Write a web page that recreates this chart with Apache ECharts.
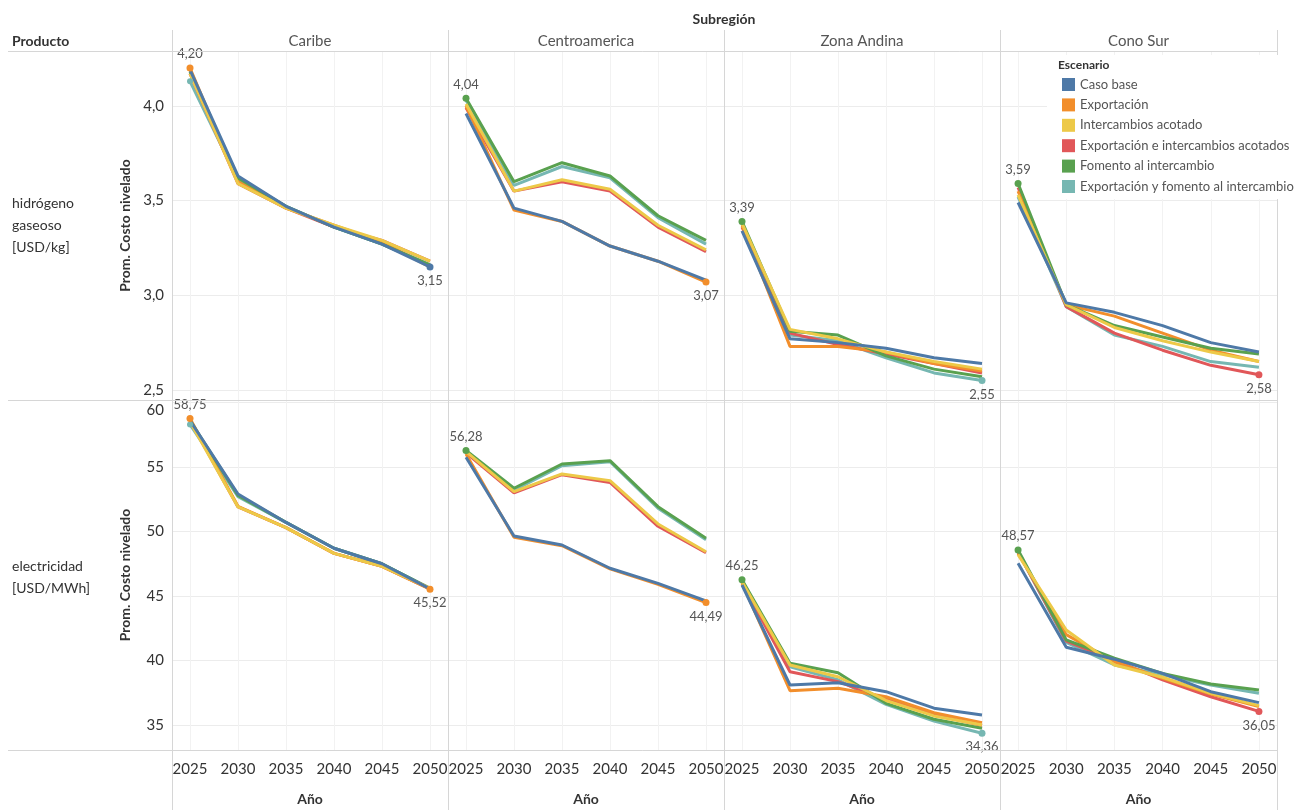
<!DOCTYPE html>
<html><head><meta charset="utf-8">
<script src="https://cdn.jsdelivr.net/npm/echarts@6/dist/echarts.min.js"></script>
<style>html,body{margin:0;padding:0;background:#fff}#c{width:1298px;height:810px}</style>
</head><body><div id="c"></div>
<script>
// ---------- DATA ----------
const years = [2025, 2030, 2035, 2040, 2045, 2050];
const regions = ['Caribe', 'Centroamerica', 'Zona Andina', 'Cono Sur'];
const products = ['hidrógeno\ngaseoso\n[USD/kg]', 'electricidad\n[USD/MWh]'];
const scenarios = ['Caso base', 'Exportación', 'Intercambios acotado',
  'Exportación e intercambios acotados', 'Fomento al intercambio',
  'Exportación y fomento al intercambio'];
const colors = ['#4e79a7', '#f28e2b', '#edc948', '#e15759', '#59a14f', '#76b7b2'];

// hidrógeno gaseoso [USD/kg] — rows in scenario order
const h2Caribe = [
  [4.19, 3.63, 3.47, 3.36, 3.27, 3.15],
  [4.20, 3.60, 3.46, 3.37, 3.28, 3.15],
  [4.17, 3.59, 3.46, 3.37, 3.29, 3.18],
  [4.17, 3.59, 3.46, 3.36, 3.29, 3.18],
  [4.18, 3.62, 3.47, 3.36, 3.27, 3.16],
  [4.13, 3.61, 3.47, 3.36, 3.27, 3.16]
];
const h2Centroamerica = [
  [3.96, 3.46, 3.39, 3.26, 3.18, 3.08],
  [4.00, 3.45, 3.39, 3.26, 3.18, 3.07],
  [4.01, 3.55, 3.61, 3.56, 3.37, 3.24],
  [3.99, 3.55, 3.60, 3.55, 3.36, 3.23],
  [4.04, 3.60, 3.70, 3.63, 3.42, 3.29],
  [4.03, 3.58, 3.68, 3.62, 3.41, 3.27]
];
const h2ZonaAndina = [
  [3.34, 2.77, 2.75, 2.72, 2.67, 2.64],
  [3.37, 2.73, 2.73, 2.70, 2.64, 2.60],
  [3.38, 2.82, 2.77, 2.70, 2.65, 2.61],
  [3.36, 2.80, 2.74, 2.69, 2.64, 2.59],
  [3.39, 2.81, 2.79, 2.68, 2.61, 2.57],
  [3.38, 2.79, 2.76, 2.67, 2.59, 2.55]
];
const h2ConoSur = [
  [3.49, 2.96, 2.91, 2.84, 2.75, 2.70],
  [3.55, 2.95, 2.89, 2.80, 2.71, 2.65],
  [3.53, 2.95, 2.83, 2.76, 2.70, 2.65],
  [3.57, 2.94, 2.80, 2.71, 2.63, 2.58],
  [3.59, 2.95, 2.84, 2.78, 2.72, 2.69],
  [3.52, 2.94, 2.79, 2.73, 2.65, 2.62]
];
// electricidad [USD/MWh]
const elCaribe = [
  [58.60, 52.90, 50.70, 48.70, 47.50, 45.55],
  [58.75, 51.95, 50.30, 48.30, 47.30, 45.52],
  [58.50, 51.90, 50.30, 48.30, 47.30, 45.60],
  [58.60, 51.90, 50.30, 48.30, 47.30, 45.55],
  [58.60, 52.80, 50.70, 48.70, 47.50, 45.60],
  [58.30, 52.70, 50.70, 48.70, 47.50, 45.60]
];
const elCentroamerica = [
  [55.75, 49.65, 48.95, 47.15, 45.98, 44.62],
  [56.00, 49.55, 48.90, 47.10, 45.90, 44.49],
  [56.19, 53.09, 54.46, 53.94, 50.58, 48.43],
  [56.10, 53.00, 54.40, 53.80, 50.40, 48.35],
  [56.28, 53.35, 55.23, 55.49, 51.92, 49.47],
  [56.20, 53.20, 55.10, 55.40, 51.80, 49.35]
];
const elZonaAndina = [
  [45.85, 38.10, 38.28, 37.58, 36.30, 35.78],
  [46.00, 37.66, 37.85, 37.19, 35.95, 35.18],
  [46.10, 39.65, 38.74, 36.90, 35.70, 35.00],
  [46.00, 39.13, 38.36, 37.00, 35.80, 34.95],
  [46.25, 39.78, 39.05, 36.68, 35.44, 34.74],
  [46.15, 39.50, 38.50, 36.60, 35.30, 34.36]
];
const elConoSur = [
  [47.53, 41.02, 40.10, 39.00, 37.58, 36.73],
  [48.31, 42.00, 39.90, 38.62, 37.40, 36.42],
  [48.20, 42.36, 39.65, 38.70, 37.45, 36.50],
  [48.40, 41.50, 40.00, 38.50, 37.19, 36.05],
  [48.57, 41.59, 40.17, 39.00, 38.18, 37.71],
  [48.40, 41.40, 39.65, 38.90, 38.10, 37.46]
];
const panels = [
  [h2Caribe, h2Centroamerica, h2ZonaAndina, h2ConoSur],
  [elCaribe, elCentroamerica, elZonaAndina, elConoSur]
];

// ---------- LAYOUT ----------
const FONT = 'Lato, "Noto Sans", sans-serif';
const colLeft = [172, 448, 724, 1000];
const colW = [276, 276, 276, 277];
const rowTop = [51, 400];
const rowH = [349, 350];
const yRange = [[2.447, 4.29, 4, 0.5], [33.06, 60.19, 5, 5]];
const drawOrder = [5, 3, 1, 4, 2, 0];

const grids = [], xAxes = [], yAxes = [], series = [];
const isMult = (v, s) => Math.abs(v / s - Math.round(v / s)) < 1e-6;

for (let r = 0; r < 2; r++) {
  for (let c = 0; c < 4; c++) {
    const gi = grids.length;
    grids.push({left: colLeft[c], top: rowTop[r], width: colW[c], height: rowH[r]});
    xAxes.push({
      gridIndex: gi, type: 'value', min: 2023.125, max: 2051.875, splitNumber: 5,
      axisLine: {show: false}, axisTick: {show: false},
      axisLabel: {show: r === 1, margin: 12, fontSize: 15, color: '#333', fontFamily: FONT,
        formatter: v => isMult(v, 5) ? String(Math.round(v)) : ''},
      splitLine: {show: true, lineStyle: {color: '#f2f2f2', width: 1}},
      name: r === 1 ? 'Año' : '', nameLocation: 'middle', nameGap: 42,
      nameTextStyle: {fontWeight: 'bold', fontSize: 14, color: '#333', fontFamily: FONT}
    });
    const [mn, mx, sn, st] = yRange[r];
    yAxes.push({
      gridIndex: gi, type: 'value', min: mn, max: mx, splitNumber: sn,
      axisLine: {show: false}, axisTick: {show: false},
      axisLabel: {show: c === 0, margin: 8, fontSize: 15, color: '#333', fontFamily: FONT,
        formatter: v => {
          if (!isMult(v, st)) return '';
          if (r === 0) return v.toFixed(1).replace('.', ',');
          const s = String(Math.round(v));
          return Math.round(v) === 60 ? '{t|' + s + '}' : s;
        },
        rich: {t: {padding: [16, 0, 0, 0], fontSize: 15, color: '#333', fontFamily: FONT}}
      },
      splitLine: {show: true, lineStyle: {color: '#ececec', width: 1}},
      name: c === 0 ? 'Prom. Costo nivelado' : '', nameLocation: 'middle', nameGap: 40,
      nameTextStyle: {fontWeight: 'bold', fontSize: 14, color: '#333', fontFamily: FONT}
    });
    const pd = panels[r][c];
    // find max & min
    let maxS = 0, maxI = 0, minS = 0, minI = 0;
    pd.forEach((arr, s) => arr.forEach((v, i) => {
      if (v > pd[maxS][maxI]) { maxS = s; maxI = i; }
      if (v < pd[minS][minI]) { minS = s; minI = i; }
    }));
    drawOrder.forEach(s => {
      const data = years.map((y, i) => {
        const item = {value: [y, pd[s][i]], symbolSize: 0};
        const isMax = s === maxS && i === maxI, isMin = s === minS && i === minI;
        if (isMax || isMin) {
          item.symbolSize = 7;
          item.label = {show: true, position: isMax ? 'top' : 'bottom', distance: 4,
            formatter: pd[s][i].toFixed(2).replace('.', ','),
            fontSize: 13, color: '#555', fontFamily: FONT};
        }
        // lone start marker of the teal series in Caribe (visible in the original)
        if (c === 0 && s === 5 && i === 0) item.symbolSize = 6;
        return item;
      });
      series.push({
        type: 'line', name: scenarios[s], xAxisIndex: gi, yAxisIndex: gi,
        data, color: colors[s], symbol: 'circle', showAllSymbol: true,
        lineStyle: {width: 3, color: colors[s]}, itemStyle: {color: colors[s]},
        emphasis: {disabled: true}, silent: true, animation: false
      });
    });
  }
}

// ---------- DECORATION ----------
const lineStyle = {stroke: '#d6d6d6', lineWidth: 1};
const graphics = [];
[51, 400, 750].forEach(y => graphics.push({type: 'line', shape: {x1: 8, y1: y + 0.5, x2: 1277, y2: y + 0.5}, style: lineStyle, z: 50}));
[172, 448, 724, 1000, 1277].forEach(x => graphics.push({type: 'line', shape: {x1: x + 0.5, y1: 30, x2: x + 0.5, y2: 810}, style: lineStyle, z: 50}));
graphics.push({type: 'text', x: 724, y: 19, style: {text: 'Subregión', font: 'bold 14px ' + FONT, fill: '#333', textAlign: 'center', textVerticalAlign: 'middle'}, z: 60});
graphics.push({type: 'text', x: 12, y: 41, style: {text: 'Producto', font: 'bold 14px ' + FONT, fill: '#333', textAlign: 'left', textVerticalAlign: 'middle'}, z: 60});
regions.forEach((name, c) => graphics.push({type: 'text', x: colLeft[c] + colW[c] / 2, y: 41,
  style: {text: name, font: '15px ' + FONT, fill: '#555', textAlign: 'center', textVerticalAlign: 'middle'}, z: 60}));
products.forEach((name, r) => graphics.push({type: 'text', x: 12, y: r === 0 ? 225 : 577,
  style: {text: name, font: '14px ' + FONT, lineHeight: 22, fill: '#333', textAlign: 'left', textVerticalAlign: 'middle'}, z: 60}));
graphics.push({type: 'text', x: 1058, y: 65, style: {text: 'Escenario', font: 'bold 12px ' + FONT, fill: '#333', textAlign: 'left', textVerticalAlign: 'middle'}, z: 200});

const chart = echarts.init(document.getElementById('c'), null, {renderer: 'canvas'});
chart.setOption({
  animation: false,
  backgroundColor: '#fff',
  textStyle: {fontFamily: FONT},
  grid: grids, xAxis: xAxes, yAxis: yAxes, series,
  legend: {
    data: scenarios, orient: 'vertical', left: 1047, top: 55,
    padding: [23, 4, 6, 15], itemWidth: 13, itemHeight: 13, itemGap: 7.4,
    icon: 'rect', selectedMode: false, backgroundColor: '#fff', z: 100,
    textStyle: {fontSize: 13, color: '#555', fontFamily: FONT}
  },
  graphic: graphics
});
</script></body></html>
